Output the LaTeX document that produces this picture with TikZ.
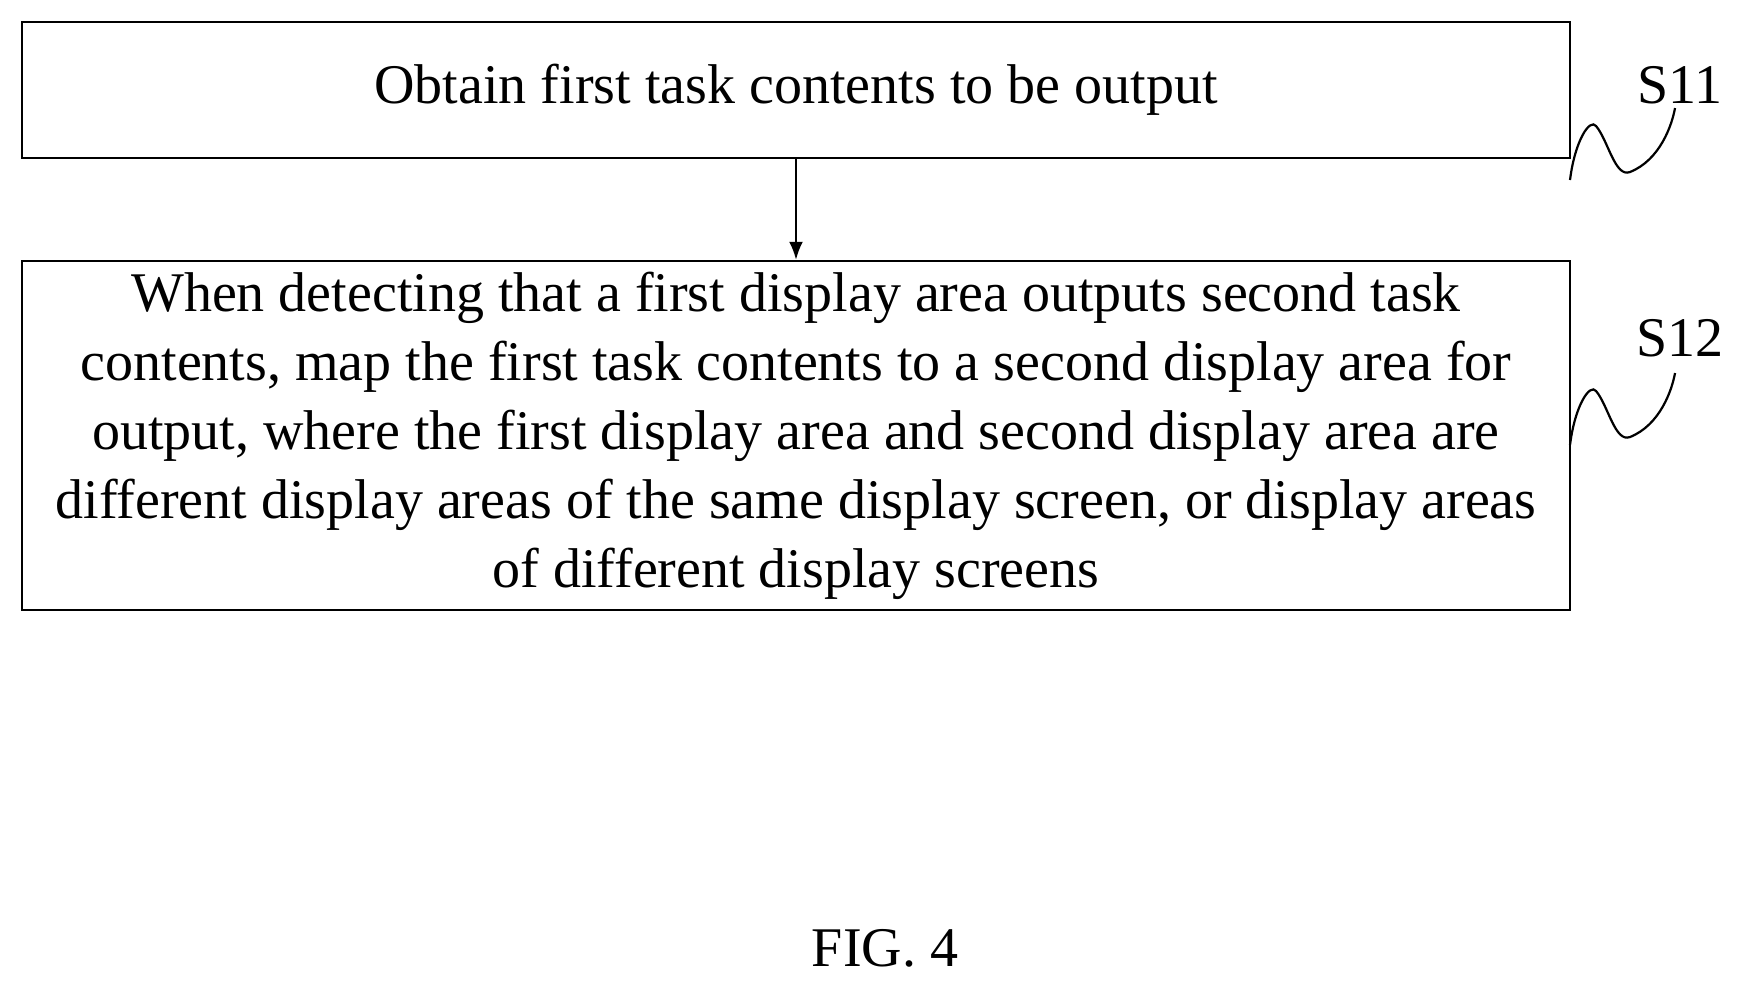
\documentclass[tikz,border=0pt]{standalone}
\usepackage{fontspec}
\setmainfont{Liberation Serif}
\usetikzlibrary{positioning,arrows.meta}
\tikzset{stepbox/.style={draw,line width=1.2pt,inner sep=0pt,align=center,font=\fontsize{28}{34.5}\selectfont},
  squiggle/.style={line width=1.1pt}}
\begin{document}
\begin{tikzpicture}[x=0.5pt,y=-0.5pt]
  \useasboundingbox (0,0) rectangle (1739,982);
  \node[stepbox,minimum width=774pt,minimum height=68pt] (S11) at (796,90) {Obtain first task contents to be output};
  \node[stepbox,minimum width=774pt,minimum height=174.5pt] (S12) at (796,435.5)
    {When detecting that a first display area outputs second task\\contents, map the first task contents to a second display area for\\output, where the first display area and second display area are\\different display areas of the same display screen, or display areas\\of different display screens};
  \draw[-{Latex[length=9pt,width=7pt]},line width=1.1pt] (S11) -- (S12);
  %% step labels
  \node[font=\fontsize{28}{34.5}\selectfont] (L11) at (1680,85) {S11};
  \node[font=\fontsize{28}{34.5}\selectfont] (L12) at (1680,338) {S12};
  \draw[squiggle] (1570,180) .. controls (1575,140) and (1590,118) .. (1596,126) .. controls (1608,140) and (1615,178) .. (1630,172) .. controls (1660,160) and (1672,125) .. (1675,108);
  \draw[squiggle] (1570,445) .. controls (1575,405) and (1590,383) .. (1596,391) .. controls (1608,405) and (1615,443) .. (1630,437) .. controls (1660,425) and (1672,390) .. (1675,373);
  \node[font=\fontsize{28}{34.5}\selectfont] (fig) at (885,948) {FIG. 4};
\end{tikzpicture}
\end{document}
